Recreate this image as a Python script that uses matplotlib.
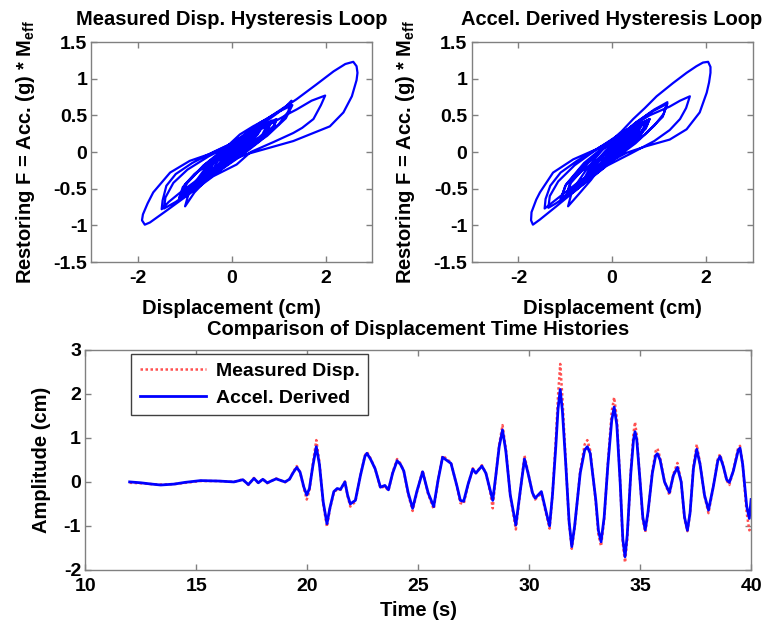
import matplotlib
matplotlib.use("Agg")
import matplotlib.pyplot as plt

plt.rcParams['font.family'] = ['Liberation Sans', 'DejaVu Sans']
plt.rcParams['font.weight'] = 'bold'
plt.rcParams['axes.unicode_minus'] = False
plt.rcParams['mathtext.fontset'] = 'custom'
plt.rcParams['mathtext.rm'] = 'Liberation Sans:bold'
plt.rcParams['mathtext.bf'] = 'Liberation Sans:bold'
plt.rcParams['mathtext.it'] = 'Liberation Sans:bold'

# ---------------- data ----------------
titles = ["Measured Disp. Hysteresis Loop", "Accel. Derived Hysteresis Loop"]
bottom_title = "Comparison of Displacement Time Histories"
legend_labels = ["Measured Disp.", "Accel. Derived"]

hyst_xticks = [-2, 0, 2]
hyst_yticks = [-1.5, -1, -0.5, 0, 0.5, 1, 1.5]
hyst_yticklabels = ["-1.5", "-1", "-0.5", "0", "0.5", "1", "1.5"]
time_xticks = [10, 15, 20, 25, 30, 35, 40]
time_yticks = [-2, -1, 0, 1, 2, 3]

# Measured displacement hysteresis loop (disp cm, force)
meas_loop = [
    (0.00, 0.00), (0.04, 0.03), (-0.04, -0.03), (0.07, 0.05), (-0.05, -0.04), (0.08, 0.04),
    (-0.02, -0.02), (0.06, 0.04), (0.20, 0.12), (0.36, 0.20), (0.30, 0.13), (0.05, -0.02),
    (-0.25, -0.16), (-0.40, -0.23), (-0.30, -0.12), (0.00, 0.05), (0.40, 0.24), (0.75, 0.37),
    (0.95, 0.44), (0.90, 0.36), (0.65, 0.22), (0.20, 0.02), (-0.30, -0.18), (-0.75, -0.40),
    (-1.00, -0.52), (-0.97, -0.42), (-0.75, -0.28), (-0.40, -0.12), (-0.24, -0.06), (-0.20, -0.10),
    (-0.10, -0.02), (0.01, 0.03), (-0.15, -0.10), (-0.40, -0.24), (-0.56, -0.32), (-0.45, -0.18),
    (-0.10, 0.02), (0.30, 0.22), (0.60, 0.35), (0.68, 0.38), (0.55, 0.24), (0.30, 0.10),
    (-0.05, -0.07), (-0.20, -0.14), (-0.12, -0.06), (0.15, 0.10), (0.40, 0.24), (0.52, 0.30),
    (0.40, 0.17), (0.10, 0.00), (-0.30, -0.20), (-0.55, -0.33), (-0.66, -0.40), (-0.50, -0.22),
    (-0.15, -0.02), (0.15, 0.13), (0.26, 0.18), (0.15, 0.06), (-0.15, -0.12), (-0.45, -0.28),
    (-0.62, -0.37), (-0.48, -0.18), (-0.10, 0.05), (0.30, 0.24), (0.60, 0.36), (0.50, 0.22),
    (0.20, 0.04), (-0.20, -0.16), (-0.50, -0.31), (-0.40, -0.15), (-0.05, 0.04), (0.31, 0.20),
    (0.20, 0.14), (0.38, 0.22), (0.20, 0.06), (-0.25, -0.18), (-0.60, -0.36), (-0.40, -0.14),
    (0.10, 0.16), (0.60, 0.40), (1.00, 0.55), (1.29, 0.64), (1.15, 0.46), (0.75, 0.22),
    (0.20, -0.02), (-0.40, -0.28), (-0.85, -0.50), (-1.08, -0.60), (-0.98, -0.44), (-0.60, -0.18),
    (-0.10, 0.08), (0.35, 0.26), (0.60, 0.35), (0.45, 0.18), (0.10, -0.02), (-0.27, -0.20),
    (-0.40, -0.26), (-0.25, -0.18), (-0.50, -0.35), (-0.80, -0.55), (-1.00, -0.74), (-0.90, -0.51),
    (-0.60, -0.25), (-0.20, 0.02), (0.17, 0.24), (0.45, 0.35), (0.74, 0.45), (1.05, 0.58),
    (1.38, 0.72), (1.80, 0.92), (2.17, 1.10), (2.42, 1.20), (2.59, 1.23), (2.66, 1.17),
    (2.68, 1.08), (2.66, 0.98), (2.56, 0.76), (2.38, 0.54), (2.09, 0.35), (1.74, 0.26),
    (1.31, 0.15), (0.81, 0.06), (0.31, -0.03), (-0.20, -0.16), (-0.70, -0.36), (-1.10, -0.55),
    (-1.35, -0.68), (-1.50, -0.78), (-1.48, -0.66), (-1.40, -0.46), (-1.20, -0.30), (-0.85, -0.15),
    (-0.40, 0.00), (0.10, 0.15), (0.55, 0.32), (0.85, 0.42), (0.95, 0.45), (0.88, 0.33),
    (0.60, 0.15), (0.20, -0.05), (-0.30, -0.27), (-0.80, -0.50), (-1.20, -0.68), (-1.45, -0.77),
    (-1.42, -0.62), (-1.25, -0.42), (-0.95, -0.24), (-0.50, -0.06), (0.10, 0.14), (0.70, 0.34),
    (1.20, 0.52), (1.38, 0.58), (1.70, 0.70), (1.99, 0.77), (1.90, 0.64), (1.74, 0.45),
    (1.50, 0.33), (1.31, 0.26), (0.90, 0.14), (0.40, 0.00), (0.10, -0.17), (-0.40, -0.33),
    (-0.97, -0.60), (-1.40, -0.80), (-1.75, -0.96), (-1.86, -0.99), (-1.92, -0.93), (-1.90, -0.85),
    (-1.80, -0.70), (-1.68, -0.55), (-1.32, -0.28), (-0.90, -0.12), (-0.40, -0.01), (0.10, 0.15),
    (0.60, 0.36), (0.95, 0.52), (1.15, 0.62), (1.27, 0.70), (1.20, 0.55), (1.00, 0.38),
    (0.60, 0.16), (0.10, -0.08), (-0.50, -0.36), (-0.90, -0.55), (-1.13, -0.64), (-1.05, -0.48),
    (-0.80, -0.30), (-0.30, -0.05), (0.20, 0.17), (0.60, 0.33), (0.76, 0.38), (0.65, 0.24),
    (0.35, 0.08), (0.00, -0.08), (-0.30, -0.18), (-0.20, -0.09), (0.10, 0.08), (0.43, 0.23),
    (0.30, 0.12), (0.00, -0.05), (-0.50, -0.30), (-0.90, -0.50), (-1.12, -0.62), (-1.00, -0.44),
    (-0.60, -0.18), (0.00, 0.10), (0.50, 0.30), (0.85, 0.43), (0.75, 0.28), (0.35, 0.06),
    (-0.20, -0.18), (-0.60, -0.38), (-0.71, -0.42), (-0.55, -0.24), (-0.10, 0.04), (0.40, 0.26),
    (0.63, 0.34), (0.50, 0.20), (0.20, 0.04), (-0.07, -0.06), (0.10, 0.06), (0.50, 0.28),
    (0.82, 0.41), (0.70, 0.24), (0.30, 0.03), (-0.30, -0.22), (-0.80, -0.46), (-1.10, -0.60),
    (-1.05, -0.52),
]

# Acceleration-derived hysteresis loop (disp cm, force)
accel_loop = [
    (0.00, 0.00), (0.04, 0.03), (-0.04, -0.03), (0.06, 0.05), (-0.05, -0.04), (0.07, 0.04),
    (-0.02, -0.02), (0.05, 0.04), (0.20, 0.14), (0.33, 0.21), (0.25, 0.12), (0.05, -0.02),
    (-0.20, -0.16), (-0.30, -0.22), (-0.22, -0.12), (0.05, 0.08), (0.40, 0.28), (0.68, 0.40),
    (0.80, 0.45), (0.74, 0.36), (0.50, 0.20), (0.10, -0.02), (-0.35, -0.24), (-0.75, -0.44),
    (-0.95, -0.54), (-0.90, -0.42), (-0.65, -0.26), (-0.30, -0.10), (-0.22, -0.06), (-0.17, -0.12),
    (-0.08, -0.02), (0.00, 0.05), (-0.15, -0.10), (-0.38, -0.26), (-0.50, -0.33), (-0.40, -0.18),
    (-0.05, 0.05), (0.30, 0.24), (0.58, 0.37), (0.65, 0.40), (0.52, 0.26), (0.28, 0.10),
    (-0.05, -0.08), (-0.18, -0.15), (-0.10, -0.06), (0.15, 0.12), (0.38, 0.26), (0.48, 0.31),
    (0.36, 0.17), (0.08, 0.00), (-0.28, -0.22), (-0.50, -0.35), (-0.60, -0.40), (-0.45, -0.22),
    (-0.12, 0.00), (0.15, 0.15), (0.23, 0.19), (0.12, 0.06), (-0.15, -0.13), (-0.42, -0.30),
    (-0.56, -0.37), (-0.42, -0.18), (-0.08, 0.06), (0.28, 0.26), (0.56, 0.38), (0.45, 0.22),
    (0.15, 0.03), (-0.20, -0.18), (-0.44, -0.32), (-0.35, -0.15), (-0.02, 0.07), (0.29, 0.22),
    (0.20, 0.14), (0.36, 0.24), (0.18, 0.06), (-0.22, -0.20), (-0.42, -0.32), (-0.28, -0.12),
    (0.10, 0.18), (0.50, 0.40), (0.85, 0.55), (1.18, 0.66), (1.08, 0.48), (0.70, 0.24),
    (0.20, 0.00), (-0.35, -0.28), (-0.75, -0.50), (-0.98, -0.60), (-0.88, -0.42), (-0.50, -0.14),
    (-0.05, 0.12), (0.30, 0.27), (0.52, 0.35), (0.40, 0.18), (0.08, -0.02), (-0.25, -0.22),
    (-0.37, -0.28), (-0.22, -0.18), (-0.45, -0.38), (-0.72, -0.58), (-0.94, -0.74), (-0.85, -0.52),
    (-0.55, -0.24), (-0.15, 0.08), (0.20, 0.28), (0.45, 0.45), (0.70, 0.60), (0.95, 0.76),
    (1.30, 0.94), (1.59, 1.08), (1.80, 1.17), (1.94, 1.22), (2.05, 1.23), (2.10, 1.16),
    (2.10, 1.08), (2.07, 0.95), (2.02, 0.81), (1.87, 0.54), (1.59, 0.31), (1.23, 0.17),
    (0.73, 0.08), (0.31, -0.01), (-0.20, -0.18), (-0.70, -0.40), (-1.10, -0.60), (-1.32, -0.71),
    (-1.44, -0.77), (-1.42, -0.64), (-1.32, -0.46), (-1.10, -0.28), (-0.75, -0.12), (-0.30, 0.05),
    (0.20, 0.22), (0.55, 0.36), (0.75, 0.43), (0.80, 0.45), (0.72, 0.32), (0.45, 0.14),
    (0.05, -0.08), (-0.45, -0.33), (-0.90, -0.57), (-1.20, -0.70), (-1.36, -0.76), (-1.33, -0.60),
    (-1.15, -0.40), (-0.80, -0.18), (-0.30, 0.05), (0.25, 0.28), (0.80, 0.50), (1.23, 0.62),
    (1.45, 0.70), (1.66, 0.76), (1.58, 0.60), (1.45, 0.45), (1.23, 0.30), (0.90, 0.15),
    (0.40, -0.02), (-0.12, -0.19), (-0.48, -0.37), (-0.83, -0.55), (-1.19, -0.74), (-1.54, -0.92),
    (-1.69, -0.99), (-1.73, -0.93), (-1.72, -0.82), (-1.62, -0.65), (-1.54, -0.55), (-1.26, -0.28),
    (-0.83, -0.10), (-0.33, 0.04), (0.15, 0.22), (0.55, 0.42), (0.90, 0.58), (1.10, 0.65),
    (1.18, 0.68), (1.10, 0.52), (0.90, 0.36), (0.50, 0.12), (0.00, -0.12), (-0.50, -0.38),
    (-0.85, -0.55), (-1.09, -0.64), (-1.00, -0.46), (-0.70, -0.24), (-0.25, 0.02), (0.25, 0.24),
    (0.55, 0.35), (0.64, 0.38), (0.52, 0.22), (0.25, 0.05), (-0.05, -0.10), (-0.24, -0.18),
    (-0.12, -0.08), (0.15, 0.12), (0.33, 0.22), (0.20, 0.10), (-0.10, -0.08), (-0.50, -0.33),
    (-0.90, -0.55), (-1.10, -0.64), (-0.98, -0.44), (-0.60, -0.15), (-0.05, 0.14), (0.45, 0.34),
    (0.74, 0.43), (0.62, 0.26), (0.25, 0.04), (-0.25, -0.22), (-0.55, -0.38), (-0.64, -0.42),
    (-0.48, -0.22), (-0.05, 0.06), (0.35, 0.26), (0.58, 0.35), (0.45, 0.20), (0.12, 0.03),
    (-0.01, -0.05), (0.15, 0.08), (0.50, 0.30), (0.77, 0.43), (0.62, 0.24), (0.20, 0.00),
    (-0.35, -0.28), (-0.70, -0.48), (-0.83, -0.55), (-0.60, -0.36),
]

# Accel-derived displacement time history (s, cm)
accel_t = [12.0, 12.5, 13.0, 13.4, 14.0, 14.5, 15.2, 16.0, 16.7, 17.1, 17.35, 17.6, 17.8,
           18.0, 18.2, 18.6, 19.0, 19.2,
           19.38, 19.53, 19.68, 19.85, 19.98, 20.1, 20.25, 20.41, 20.55, 20.72, 20.89, 21.02,
           21.2, 21.35, 21.5, 21.7, 21.82, 21.94, 22.17, 22.4, 22.6, 22.69, 22.85, 23.06, 23.3,
           23.5, 23.66, 23.85, 24.05, 24.2, 24.35, 24.55, 24.75, 24.95, 25.2, 25.45, 25.7, 25.9,
           26.1, 26.48, 26.75, 26.9, 27.05, 27.25, 27.46, 27.6, 27.87, 28.05, 28.25, 28.36, 28.5,
           28.65, 28.8, 28.95, 29.15, 29.4, 29.6, 29.79, 29.95, 30.15, 30.27, 30.55, 30.75, 30.92,
           31.05, 31.2, 31.3, 31.4, 31.5, 31.65, 31.8, 31.92, 32.05, 32.3, 32.5, 32.62, 32.75,
           33.0, 33.12, 33.24, 33.38, 33.55, 33.72, 33.83, 33.95, 34.1, 34.22, 34.32, 34.42,
           34.58, 34.7, 34.77, 34.85, 35.0, 35.12, 35.23, 35.35, 35.55, 35.7, 35.78, 35.9, 36.1,
           36.32, 36.5, 36.68, 36.85, 37.0, 37.13, 37.25, 37.4, 37.55, 37.7, 37.9, 38.08, 38.3,
           38.5, 38.6, 38.75, 38.9, 39.02, 39.2, 39.42, 39.5, 39.62, 39.8, 39.92, 40.0]
accel_v = [0.0, -0.02, -0.05, -0.07, -0.05, -0.01, 0.03, 0.02, 0.0, 0.05, -0.06, 0.08, -0.02,
           0.06, -0.02, 0.07, 0.0, 0.06,
           0.22, 0.33, 0.22, -0.12, -0.3, -0.15, 0.35, 0.8, 0.4, -0.45, -0.95, -0.6,
           -0.22, -0.15, -0.17, 0.0, -0.3, -0.5, -0.42, 0.15, 0.58, 0.65, 0.52, 0.3, -0.12,
           -0.08, -0.18, 0.2, 0.48, 0.4, 0.25, -0.25, -0.6, -0.2, 0.23, -0.25, -0.56, 0.05,
           0.56, 0.42, -0.1, -0.42, -0.44, -0.05, 0.29, 0.2, 0.36, 0.2, -0.2, -0.42, 0.15,
           0.8, 1.18, 0.7, -0.3, -0.98, -0.2, 0.52, 0.2, -0.25, -0.37, -0.22, -0.65, -1.0,
           -0.3, 0.8, 1.65, 2.1, 1.6, 0.4, -0.9, -1.47, -1.0, 0.2, 0.72, 0.8, 0.65,
           -0.4, -1.1, -1.36, -0.8, 0.4, 1.4, 1.7, 1.3, 0.0, -1.3, -1.7, -1.2,
           0.2, 0.95, 1.14, 0.95, 0.0, -0.8, -1.09, -0.7, 0.2, 0.6, 0.64, 0.5, 0.0,
           -0.24, 0.15, 0.33, 0.0, -0.8, -1.1, -0.7, 0.3, 0.74, 0.4, -0.3, -0.64, -0.1,
           0.48, 0.58, 0.35, 0.05, -0.01, 0.25, 0.72, 0.77, 0.4, -0.55, -0.83, -0.4]

# Measured displacement time history (s, cm)
meas_t = accel_t
meas_v = [-0.02, -0.03, -0.05, -0.06, -0.05, -0.02, 0.02, 0.02, 0.0, 0.06, -0.07, 0.09, -0.03,
          0.07, -0.03, 0.08, -0.01, 0.06,
          0.24, 0.36, 0.22, -0.15, -0.4, -0.2, 0.4, 0.95, 0.45, -0.5, -1.02, -0.62,
          -0.24, -0.17, -0.18, 0.01, -0.32, -0.56, -0.45, 0.15, 0.6, 0.68, 0.54, 0.3, -0.14,
          -0.1, -0.2, 0.22, 0.52, 0.42, 0.25, -0.28, -0.66, -0.22, 0.26, -0.28, -0.62, 0.05,
          0.6, 0.44, -0.12, -0.48, -0.5, -0.06, 0.31, 0.2, 0.38, 0.2, -0.25, -0.6, 0.15,
          0.85, 1.29, 0.75, -0.32, -1.08, -0.22, 0.6, 0.22, -0.27, -0.4, -0.25, -0.7, -1.06,
          -0.3, 0.95, 1.95, 2.68, 1.9, 0.45, -0.95, -1.52, -1.05, 0.25, 0.85, 0.95, 0.72,
          -0.45, -1.2, -1.46, -0.85, 0.45, 1.6, 1.92, 1.45, 0.0, -1.4, -1.83, -1.3,
          0.25, 1.1, 1.36, 1.05, 0.0, -0.85, -1.14, -0.75, 0.25, 0.7, 0.76, 0.55, 0.0,
          -0.3, 0.18, 0.43, 0.0, -0.85, -1.12, -0.72, 0.35, 0.85, 0.42, -0.32, -0.71, -0.1,
          0.52, 0.63, 0.37, 0.03, -0.07, 0.27, 0.78, 0.82, 0.4, -0.7, -1.1, -1.05]

# ---------------- figure ----------------
fig = plt.figure(figsize=(7.68, 6.27), dpi=100)
spine_col = '#808080'
FS = 14
TFS = 14.5

ax1 = fig.add_axes([0.119, 0.582, 0.366, 0.351])
ax2 = fig.add_axes([0.614, 0.582, 0.366, 0.351])
ax3 = fig.add_axes([0.111, 0.091, 0.867, 0.351])

def style(ax, xpad):
    for s in ax.spines.values():
        s.set_color(spine_col)
        s.set_linewidth(1.0)
    ax.tick_params(direction='in', length=4, width=1, color=spine_col,
                   top=True, right=True, labelsize=FS, pad=3)
    ax.tick_params(axis='x', pad=xpad)
    for lab in ax.get_xticklabels() + ax.get_yticklabels():
        lab.set_fontweight('bold')

ylab = r'Restoring F = Acc. (g) * M$_{\mathbf{eff}}$'
for ax, loop, title in [(ax1, meas_loop, titles[0]), (ax2, accel_loop, titles[1])]:
    xs = [p[0] for p in loop]
    ys = [p[1] for p in loop]
    ax.plot(xs, ys, color='#0000ff', lw=1.6, solid_joinstyle='round')
    ax.set_xlim(-3, 3)
    ax.set_ylim(-1.5, 1.5)
    ax.set_xticks(hyst_xticks)
    ax.set_yticks(hyst_yticks)
    ax.set_yticklabels(hyst_yticklabels)
    ax.set_title(title, fontsize=TFS, fontweight='bold', pad=12)
    ax.set_xlabel('Displacement (cm)', fontsize=TFS, fontweight='bold', labelpad=8)
    ax.set_ylabel(ylab, fontsize=TFS, fontweight='bold', labelpad=12)
    style(ax, 6)

ax3.plot(meas_t, meas_v, color='#ff5050', lw=1.8, linestyle=(0, (1, 1)),
         label=legend_labels[0])
ax3.plot(accel_t, accel_v, color='#0000ff', lw=2.0, solid_joinstyle='round',
         label=legend_labels[1])
ax3.set_xlim(10, 40)
ax3.set_ylim(-2, 3)
ax3.set_xticks(time_xticks)
ax3.set_yticks(time_yticks)
ax3.set_title(bottom_title, fontsize=TFS, fontweight='bold', pad=11)
ax3.set_xlabel('Time (s)', fontsize=TFS, fontweight='bold', labelpad=4)
ax3.set_ylabel('Amplitude (cm)', fontsize=TFS, fontweight='bold', labelpad=9)
style(ax3, 6)
leg = ax3.legend(loc='upper left', bbox_to_anchor=(0.069, 0.982), borderaxespad=0,
                 fancybox=False, edgecolor='#404040', framealpha=1, handlelength=3.4,
                 prop={'weight': 'bold', 'size': 14}, borderpad=0.45, labelspacing=0.45,
                 handletextpad=0.5)
leg.get_frame().set_linewidth(1.0)

fig.savefig('out.png', dpi=100)
